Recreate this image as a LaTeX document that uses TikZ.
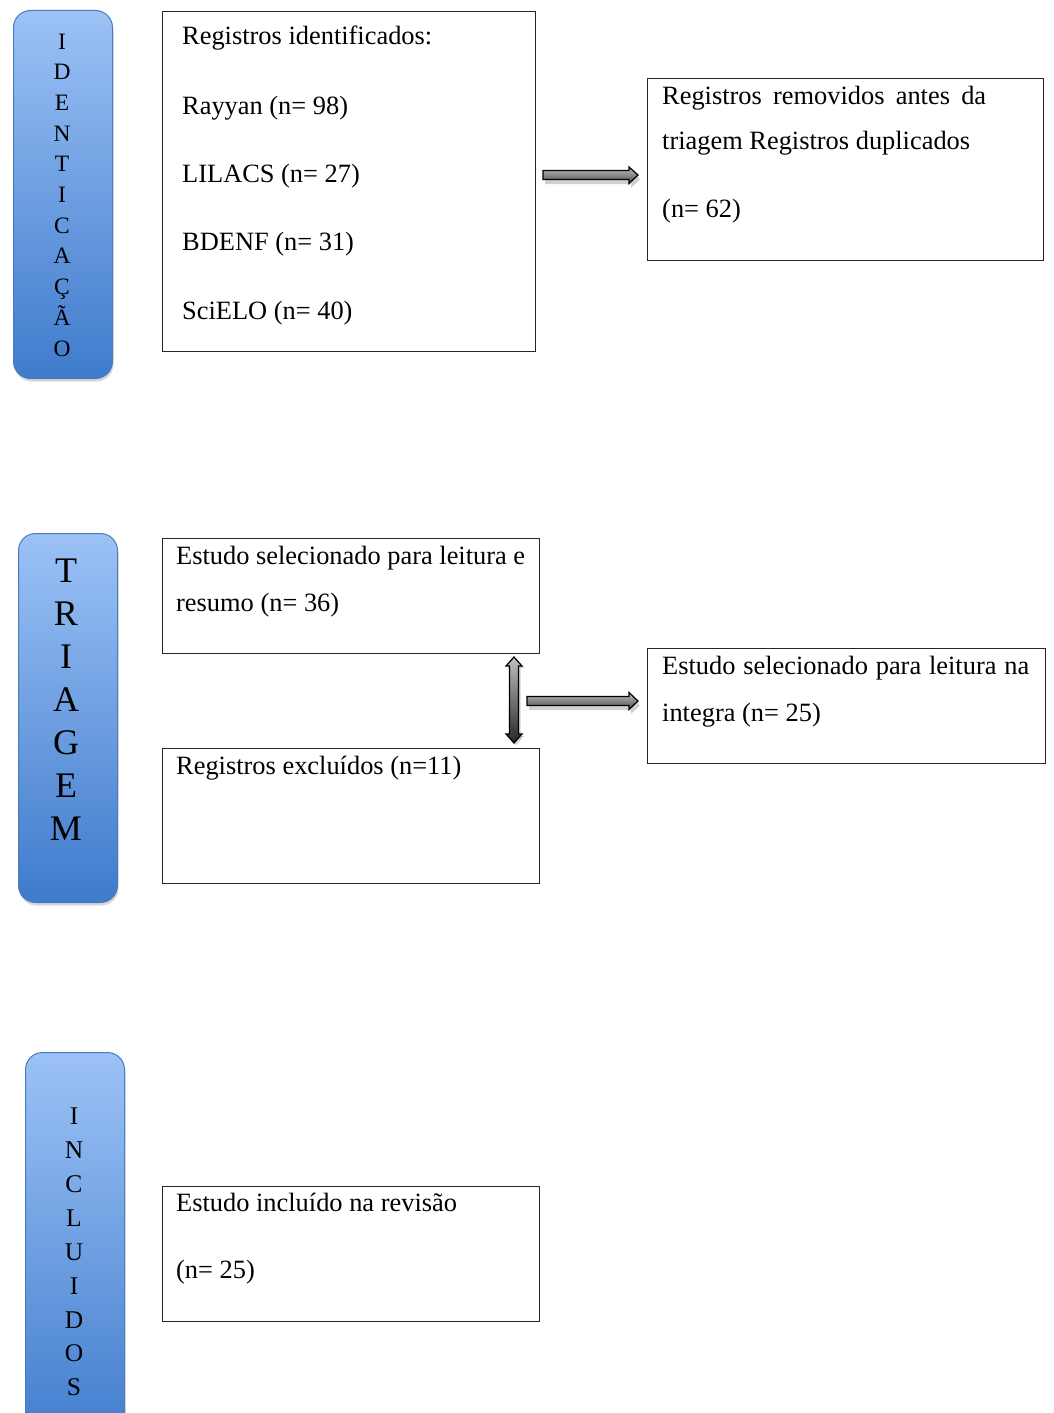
\documentclass[tikz,border=0pt]{standalone}
\usepackage{fontspec}
\setmainfont{Liberation Serif}
\usetikzlibrary{shadows}
\definecolor{barTop}{HTML}{9CC2F6}
\definecolor{barBot}{HTML}{3F7BCC}
\definecolor{barEdge}{HTML}{4A7DBF}
\begin{document}
\begin{tikzpicture}[x=1pt,y=-1pt,
  box/.style={draw=black!85, line width=0.9pt, anchor=north west, inner sep=0pt},
  txt/.style={anchor=base west, inner sep=0pt, font=\fontsize{26.4}{30}\selectfont},
  sidebar/.style={draw=barEdge, line width=1pt, rounded corners=17pt, top color=barTop, bottom color=barBot,
    anchor=north west, inner sep=0pt,
    drop shadow={shadow xshift=1pt, shadow yshift=-3pt, opacity=0.25, fill=black!60}},
  hshade/.style={draw=black, line width=1.2pt, line join=miter, top color=black!25, bottom color=black!70},
  vshade/.style={draw=black, line width=1.2pt, line join=miter, top color=black!25, bottom color=black!85},
  ashadow/.style={fill=black, opacity=0.18}
]
\useasboundingbox (0,0) rectangle (1053,1413);
\clip (0,0) rectangle (1053,1413);
\fill[white] (0,0) rectangle (1053,1413);

% side bars
\node[sidebar, minimum width=99pt, minimum height=368pt] (s1) at (13,10) {};
\node[align=center, inner sep=0pt, font=\fontsize{23.5}{30.7}\selectfont] (l1) at (62,195) {I\\D\\E\\N\\T\\I\\C\\A\\Ç\\Ã\\O};

\node[sidebar, minimum width=99pt, minimum height=369pt] (s2) at (18,533) {};
\node[align=center, inner sep=0pt, font=\fontsize{36}{43}\selectfont] (l2) at (66,700) {T\\R\\I\\A\\G\\E\\M};

\node[sidebar, minimum width=99pt, minimum height=400pt] (s3) at (25,1052) {};
\node[align=center, inner sep=0pt, font=\fontsize{25.5}{33.9}\selectfont] (l3) at (74,1252) {I\\N\\C\\L\\U\\I\\D\\O\\S};

% boxes
\node[box, minimum width=373pt, minimum height=340pt] (b1) at (162,11) {};
\node[txt] (b1a) at (182,45) {Registros identificados:};
\node[txt] (b1b) at (182,114) {Rayyan (n= 98)};
\node[txt] (b1c) at (182,182) {LILACS (n= 27)};
\node[txt] (b1d) at (182,250) {BDENF (n= 31)};
\node[txt] (b1e) at (182,319) {SciELO (n= 40)};

\node[box, minimum width=396pt, minimum height=182pt] (b2) at (647,78) {};
\node[txt] (b2a) at (662,104) {\makebox[324pt][s]{Registros removidos antes da}};
\node[txt] (b2b) at (662,149) {triagem Registros duplicados};
\node[txt] (b2c) at (662,217) {(n= 62)};

\node[box, minimum width=377pt, minimum height=115pt] (b3) at (162,538) {};
\node[txt] (b3a) at (176,564) {Estudo selecionado para leitura e};
\node[txt] (b3b) at (176,611) {resumo (n= 36)};

\node[box, minimum width=377pt, minimum height=135pt] (b4) at (162,748) {};
\node[txt] (b4a) at (176,774) {Registros excluídos (n=11)};

\node[box, minimum width=398pt, minimum height=115pt] (b5) at (647,648) {};
\node[txt] (b5a) at (662,674) {\makebox[367pt][s]{Estudo selecionado para leitura na}};
\node[txt] (b5b) at (662,721) {integra (n= 25)};

\node[box, minimum width=377pt, minimum height=135pt] (b6) at (162,1186) {};
\node[txt] (b6a) at (176,1211) {Estudo incluído na revisão};
\node[txt] (b6b) at (176,1278) {(n= 25)};

% arrows
\fill[ashadow] (545,174.5) -- (631,174.5) -- (631,171) -- (640,179.5) -- (631,188) -- (631,184) -- (545,184) -- cycle;
\path[hshade] (543,170.5) -- (629,170.5) -- (629,167) -- (638,175) -- (629,183.5) -- (629,179.5) -- (543,179.5) -- cycle;

\fill[ashadow] (529,700.5) -- (631,700.5) -- (631,697) -- (640,705.5) -- (631,714) -- (631,710) -- (529,710) -- cycle;
\path[hshade] (527,696.5) -- (629,696.5) -- (629,692.5) -- (638,701) -- (629,709.5) -- (629,705.5) -- (527,705.5) -- cycle;

\fill[ashadow] (516,659) -- (524,668) -- (520.5,668) -- (520.5,736) -- (524,736) -- (516,745) -- (508,736) -- (511.5,736) -- (511.5,668) -- (508,668) -- cycle;
\path[vshade] (514,657) -- (522,666) -- (518.5,666) -- (518.5,734) -- (522,734) -- (514,743) -- (506,734) -- (509.5,734) -- (509.5,666) -- (506,666) -- cycle;
\end{tikzpicture}
\end{document}
